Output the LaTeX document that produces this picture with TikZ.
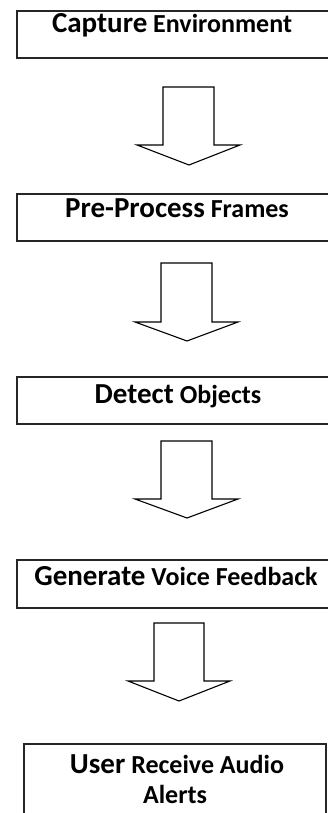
\documentclass[tikz,border=0pt]{standalone}
\usepackage{fontspec}
\setmainfont{Carlito}
\tikzset{
  box/.style={draw=black!85, line width=1.6pt, rectangle, anchor=north west, minimum width=330pt, minimum height=47pt, inner sep=0pt},
  lastbox/.style={draw=black!85, line width=1.6pt, rectangle, anchor=north west, minimum width=302pt, minimum height=100pt, inner sep=0pt},
  label/.style={anchor=base, inner sep=0pt, font=\bfseries\fontsize{26}{30}\selectfont},
  blockarrow/.style={draw=black, line width=1.1pt, line join=miter, fill=white}
}
\newcommand{\bigw}[1]{{\fontsize{29}{34}\selectfont #1}}
\newcommand{\smallw}[1]{{\fontsize{26}{30}\selectfont #1}}
\begin{document}
\begin{tikzpicture}[x=1pt,y=-1pt]
\useasboundingbox (0,0) rectangle (328,813);
\clip (0,0) rectangle (328,813);
\fill[white] (0,0) rectangle (328,813);
% boxes
\node[box] (b1) at (16,10) {};
\node[box] (b2) at (16,193) {};
\node[box] (b3) at (16,376) {};
\node[box, minimum height=48pt] (b4) at (16,559) {};
\node[lastbox] (b5) at (23,743) {};
% texts
\node[label] (t1) at (172,33) {\bigw{Capture} \smallw{Environment}};
\node[label] (t2) at (177,217) {\bigw{Pre-Process} \smallw{Frames}};
\node[label] (t3) at (178,403) {\bigw{Detect} \smallw{Objects}};
\node[label] (t4) at (176,585) {\bigw{Generate} \smallw{Voice Feedback}};
\node[label] (t5a) at (177,773) {\bigw{User} \smallw{Receive Audio}};
\node[label] (t5b) at (175,803) {\smallw{Alerts}};
% block arrows
\draw[blockarrow] (163,87) -- (214,87) -- (214,145) -- (240,145) -- (189,165) -- (137,145) -- (163,145) -- cycle;
\draw[blockarrow] (161,263) -- (212,263) -- (212,322) -- (238,322) -- (187,341) -- (135,322) -- (161,322) -- cycle;
\draw[blockarrow] (161,441) -- (212,441) -- (212,499) -- (238,499) -- (187,518) -- (135,499) -- (161,499) -- cycle;
\draw[blockarrow] (154,623) -- (204,623) -- (204,681) -- (230,681) -- (179,701) -- (128,681) -- (154,681) -- cycle;
\end{tikzpicture}
\end{document}
